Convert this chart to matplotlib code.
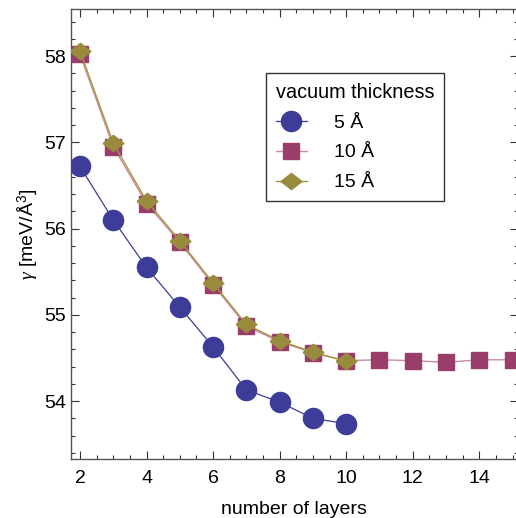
import numpy as np
import matplotlib
matplotlib.use("Agg")
import matplotlib.pyplot as plt
from matplotlib.ticker import MultipleLocator

plt.rcParams['font.family'] = ['Liberation Sans', 'DejaVu Sans']
plt.rcParams['mathtext.fontset'] = 'custom'
plt.rcParams['mathtext.rm'] = 'Liberation Sans'
plt.rcParams['mathtext.it'] = 'Liberation Serif:italic'

# data
layers_5 = [2, 3, 4, 5, 6, 7, 8, 9, 10]
gamma_5 = [56.72, 56.10, 55.55, 55.09, 54.63, 54.13, 53.99, 53.80, 53.74]

layers_10 = [2, 3, 4, 5, 6, 7, 8, 9, 10, 11, 12, 13, 14, 15]
gamma_10 = [58.02, 56.95, 56.29, 55.84, 55.35, 54.87, 54.69, 54.56, 54.47,
            54.48, 54.47, 54.45, 54.48, 54.48]

layers_15 = [2, 3, 4, 5, 6, 7, 8, 9, 10]
gamma_15 = [58.06, 56.99, 56.32, 55.86, 55.37, 54.89, 54.70, 54.57, 54.46]

labels = ["5 Å", "10 Å", "15 Å"]
colors = ["#3d3d99", "#993d6b", "#998b3d"]
line_colors = ["#3d3d99", "#c88aa8", "#a8963c"]

diamond = [(-1, 0), (0, 0.78), (1, 0), (0, -0.78), (-1, 0)]

fig = plt.figure(figsize=(5.16, 5.18), dpi=100)
ax = fig.add_axes([0.1376, 0.1139, 0.866, 0.8687])

ax.plot(layers_5, gamma_5, color=line_colors[0], lw=0.9, marker="o", ms=14.5,
        mfc=colors[0], mec=colors[0], label=labels[0], zorder=3)
ax.plot(layers_10, gamma_10, color=line_colors[1], lw=1.0, marker="s", ms=12,
        mfc=colors[1], mec=colors[1], label=labels[1], zorder=3)
ax.plot(layers_15, gamma_15, color=line_colors[2], lw=1.0, marker=diamond, ms=15,
        mfc=colors[2], mec=colors[2], label=labels[2], zorder=4)

ax.set_xlim(1.73, 15.16)
ax.set_ylim(53.33, 58.545)
ax.xaxis.set_major_locator(MultipleLocator(2))
ax.xaxis.set_minor_locator(MultipleLocator(0.5))
ax.yaxis.set_major_locator(MultipleLocator(1))
ax.yaxis.set_minor_locator(MultipleLocator(0.2))
ax.tick_params(which="both", direction="in", top=True, right=True,
               labelsize=14, color="#333333", width=0.8)
ax.tick_params(which="major", length=6)
ax.tick_params(which="minor", length=3)
ax.tick_params(axis="x", pad=8)
for s in ax.spines.values():
    s.set_color("#555555")
    s.set_linewidth(1.0)

ax.set_xlabel("number of layers", fontsize=14, labelpad=10)
ax.set_ylabel(r"$\gamma$ [meV/Å$^3$]", fontsize=14, labelpad=3)

leg = ax.legend(title="vacuum thickness", loc="upper left",
                bbox_to_anchor=(266 / 516, 1 - 73 / 518),
                bbox_transform=fig.transFigure, borderaxespad=0,
                fontsize=14, title_fontsize=14.3, fancybox=False,
                edgecolor="#333333", framealpha=1, borderpad=0.5,
                handlelength=1.6, handletextpad=1.4, labelspacing=0.63,
                alignment="left")
leg.get_frame().set_linewidth(1.0)

fig.savefig("out.png", dpi=100)
